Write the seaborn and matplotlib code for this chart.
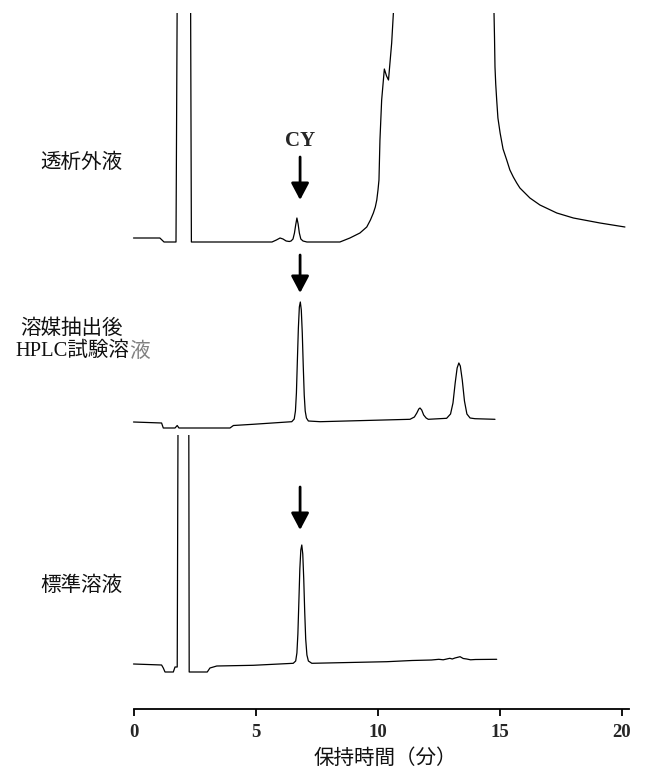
import matplotlib
matplotlib.use("Agg")
import matplotlib.pyplot as plt
from matplotlib.patches import Rectangle
import seaborn as sns
import pandas as pd

# ---- chromatogram data (retention time in min, detector response in arbitrary units) ----
# dialysate (outer solution); 300 marks off-scale response
dial_time = [0.00, 1.08, 1.25, 1.74, 1.80, 2.33, 2.37, 5.67, 5.85, 6.00, 6.12, 6.25,
             6.38, 6.45, 6.53, 6.59, 6.64, 6.69, 6.74, 6.79, 6.85, 6.94, 7.10, 8.45,
             8.86, 9.27, 9.55, 9.70, 9.82, 9.90, 9.96, 10.01, 10.05, 10.09, 10.16,
             10.27, 10.36, 10.44, 10.57, 10.64, 10.71, 14.72, 14.76, 14.78, 14.80,
             14.83, 14.87, 14.92, 15.01, 15.13, 15.28, 15.41, 15.55, 15.69, 15.82,
             16.23, 16.64, 17.33, 18.01, 19.10, 20.12]
dial_resp = [4, 4, 0, 0, 300, 300, 0, 0, 2, 4, 3, 1,
             0.5, 1, 3, 9, 17, 24, 18, 9, 3, 1, 0, 0,
             4, 9, 15, 22, 29, 35, 42, 52, 62, 102, 142,
             173, 166, 162, 199, 229, 300, 300, 229, 205, 175,
             158, 142, 124, 109, 93, 82, 72, 65, 59, 54,
             44, 37, 29, 24, 19, 15]

# HPLC test solution after solvent extraction
extr_time = [0.00, 1.15, 1.22, 1.70, 1.79, 1.86, 3.95, 4.09, 4.89, 6.48, 6.58, 6.63,
             6.67, 6.71, 6.75, 6.79, 6.83, 6.87, 6.91, 6.95, 6.99, 7.03, 7.08, 7.16,
             7.64, 11.32, 11.50, 11.60, 11.68, 11.73, 11.80, 11.88, 11.98, 12.07,
             12.82, 12.98, 13.08, 13.17, 13.25, 13.32, 13.38, 13.46, 13.55, 13.65,
             13.78, 13.98, 14.80]
extr_resp = [6, 5, 0, 0, 2.5, 0, 0, 2.5, 3.7, 6.3, 9, 17,
             35, 68, 100, 121, 126, 118, 95, 62, 33, 17, 10, 7,
             6.3, 8.7, 11, 15, 19, 20, 18, 13, 10, 8.7,
             9.7, 14, 25, 45, 60, 65, 62, 48, 27, 14,
             10, 9.3, 8.7]

# standard solution
std_time = [0.00, 1.15, 1.22, 1.29, 1.63, 1.70, 1.79, 1.83, 2.26, 2.28, 3.02, 3.13,
            3.41, 4.90, 6.54, 6.64, 6.69, 6.73, 6.77, 6.81, 6.85, 6.89, 6.93, 6.97,
            7.01, 7.05, 7.10, 7.16, 7.30, 10.37, 11.40, 12.20, 12.50, 12.68, 12.95,
            13.05, 13.16, 13.37, 13.50, 13.64, 13.80, 14.00, 14.87]
std_resp = [0, -1, -4, -8, -8, -3, -3, 300, 300, -8, -8, -4,
            -2, -1.3, 0.7, 3, 11, 30, 62, 95, 114, 119, 110, 85,
            52, 25, 9, 3, 0.7, 2.3, 3.5, 4.0, 4.7, 4.2, 5.7,
            5, 6, 7.3, 5.5, 5, 4.2, 4.5, 4.7]

sample_labels = ["透析外液", "溶媒抽出後\nHPLC試験溶液", "標準溶液"]
cy_time = 6.82
x_ticks = [0, 5, 10, 15, 20]
x_label = "保持時間（分）"

# ---- layout ----
W, H = 647, 771
PX_PER_MIN = 24.425
X0_PX = 133.5
FULL_SCALE = 229

sns.set_theme(style="white")
plt.rcParams["font.family"] = ["Noto Sans CJK JP", "DejaVu Sans"]

fig = plt.figure(figsize=(W / 100, H / 100), dpi=100)
ax = fig.add_axes([0, 0, 1, 1])
ax.set_xlim(-X0_PX / PX_PER_MIN, (W - X0_PX) / PX_PER_MIN)
ax.set_ylim(0, H)

traces = [
    (dial_time, dial_resp, 529),
    (extr_time, extr_resp, 343),
    (std_time, std_resp, 107),
]
for t, r, base in traces:
    df = pd.DataFrame({"time": t, "signal": [base + v for v in r]})
    sns.lineplot(data=df, x="time", y="signal", ax=ax, color="black",
                 lw=0.9, estimator=None, sort=False)
    line = ax.lines[-1]
    clip = Rectangle((-10, base - 30), 40, 30 + FULL_SCALE, transform=ax.transData,
                     fill=False, visible=False)
    ax.add_patch(clip)
    line.set_clip_path(clip)

# arrows marking CY
for tail, tip in [(614, 571), (516, 478), (284, 241)]:
    ax.annotate("", xy=(cy_time, tip), xytext=(cy_time, tail),
                arrowprops=dict(arrowstyle="-|>,head_length=0.85,head_width=0.45",
                                lw=2.0, color="black", shrinkA=0, shrinkB=0))
ax.text(cy_time, 630, "CY", ha="center", va="center", fontsize=15,
        fontweight="bold", family=["Liberation Serif", "DejaVu Serif"])

# sample labels
def frac(x, y):
    return x / W, 1 - y / H

cjk = ["Noto Sans CJK JP", "DejaVu Sans"]
mixed = ["Liberation Serif", "Noto Sans CJK JP"]
ax.text(*frac(40, 162), sample_labels[0], transform=ax.transAxes, ha="left",
        va="center", fontsize=14.8, family=cjk, color="#111111")
l1, l2 = sample_labels[1].split("\n")
ax.text(*frac(20, 328), l1, transform=ax.transAxes, ha="left", va="center",
        fontsize=14.8, family=cjk, color="#111111")
t2 = ax.text(*frac(15, 351), l2[:-1], transform=ax.transAxes, ha="left",
             va="center", fontsize=14.8, family=mixed, color="#111111")
ax.annotate(l2[-1], xy=(1, 0.5), xycoords=t2, ha="left", va="center",
            fontsize=14.8, family=cjk, color="#808080")
ax.text(*frac(40, 585), sample_labels[2], transform=ax.transAxes, ha="left",
        va="center", fontsize=14.8, family=cjk, color="#111111")

# time axis
for s in ["left", "right", "top"]:
    ax.spines[s].set_visible(False)
ax.spines["bottom"].set_position(("data", H - 709))
ax.spines["bottom"].set_bounds(0, 20.3)
ax.spines["bottom"].set_linewidth(1.3)
ax.spines["bottom"].set_color("black")
ax.set_yticks([])
ax.set_xticks(x_ticks)
ax.set_xticklabels([str(v) for v in x_ticks], fontsize=13.5, fontweight="bold",
                   family=["Liberation Serif", "DejaVu Serif"])
ax.tick_params(axis="x", direction="out", length=5, width=1.3, pad=6,
               bottom=True, color="black")
ax.set_xlabel(x_label, fontsize=14.8, family=cjk, color="#111111")
ax.xaxis.set_label_coords(*frac(385, 758))
ax.xaxis.label.set_verticalalignment("center")
ax.set_ylabel("")

fig.savefig("out.png", dpi=100)
